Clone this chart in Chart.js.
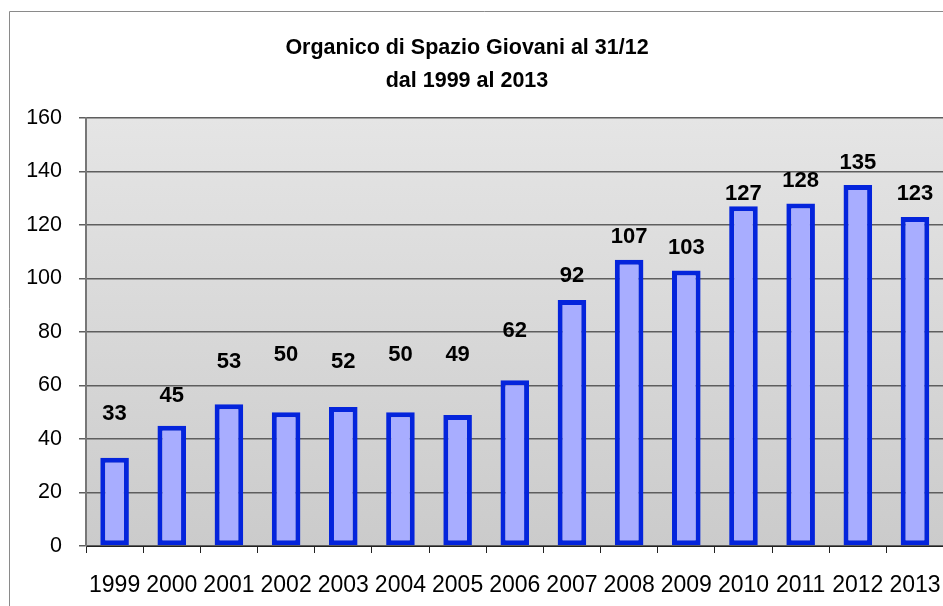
<!DOCTYPE html>
<html>
<head>
<meta charset="utf-8">
<script src="https://cdn.jsdelivr.net/npm/chart.js@4"></script>
<style>
    body { margin: 0; overflow: hidden; background: #fff; }
    #wrap { position: relative; width: 960px; height: 606px; }
</style>
</head>
<body>
<div id="wrap"><canvas id="chart"></canvas></div>
<script>
const years = ['1999', '2000', '2001', '2002', '2003', '2004', '2005', '2006', '2007', '2008', '2009', '2010', '2011', '2012', '2013'];
const organico = [33, 45, 53, 50, 52, 50, 49, 62, 92, 107, 103, 127, 128, 135, 123];
const titleLines = ['Organico di Spazio Giovani al 31/12', 'dal 1999 al 2013'];

const FONT = '"Liberation Sans", Arial, sans-serif';

// outer frame, title and plot background (grey gradient)
const framePlugin = {
    id: 'frame',
    beforeDraw(chart) {
        const ctx = chart.ctx;
        const a = chart.chartArea;
        ctx.save();
        ctx.strokeStyle = '#8a8a8a';
        ctx.lineWidth = 1;
        ctx.beginPath();
        ctx.moveTo(9.5, chart.height);
        ctx.lineTo(9.5, 11.5);
        ctx.lineTo(chart.width, 11.5);
        ctx.stroke();

        const grad = ctx.createLinearGradient(0, a.top, 0, a.bottom);
        grad.addColorStop(0, '#e5e5e5');
        grad.addColorStop(1, '#cbcbcb');
        ctx.fillStyle = grad;
        ctx.fillRect(a.left, a.top, a.right - a.left, a.bottom - a.top);

        ctx.fillStyle = '#000';
        ctx.font = 'bold 21.5px ' + FONT;
        ctx.textAlign = 'center';
        ctx.textBaseline = 'middle';
        ctx.fillText(titleLines[0], 467, 48);
        ctx.fillText(titleLines[1], 467, 81);
        ctx.restore();
    }
};

// value labels above bars, lifted by hand like in the original sheet
const valueLabels = {
    id: 'valueLabels',
    afterDatasetsDraw(chart, args, opts) {
        const ctx = chart.ctx;
        const meta = chart.getDatasetMeta(0);
        ctx.save();
        ctx.font = 'bold 22px ' + FONT;
        ctx.fillStyle = '#000';
        ctx.textAlign = 'center';
        ctx.textBaseline = 'middle';
        meta.data.forEach((bar, i) => {
            const lift = opts.lift[i] || 24;
            ctx.fillText(String(organico[i]), bar.x, bar.y - lift);
        });
        ctx.restore();
    }
};

const ctx = document.getElementById('chart').getContext('2d');
new Chart(ctx, {
    type: 'bar',
    data: {
        labels: years,
        datasets: [{
            label: 'Organico',
            data: organico,
            backgroundColor: '#a8adff',
            borderColor: '#0424dc',
            borderWidth: 5,
            borderSkipped: false,
            barPercentage: 0.5,
            categoryPercentage: 1
        }]
    },
    options: {
        responsive: true,
        maintainAspectRatio: false,
        animation: false,
        layout: {
            padding: { left: 26, right: 13, top: 118, bottom: 9 }
        },
        plugins: {
            legend: { display: false },
            tooltip: { enabled: false },
            title: { display: false },
            valueLabels: {
                lift: [44, 30, 42, 57, 45, 57, 60, 49, 24, 23, 23, 12, 23, 22, 23]
            }
        },
        scales: {
            x: {
                afterFit: s => { s.height = 51; },
                grid: {
                    drawOnChartArea: false,
                    drawTicks: true,
                    tickLength: 7,
                    color: '#222',
                    offset: true
                },
                border: { color: '#222', width: 1 },
                ticks: {
                    color: '#000',
                    padding: 19,
                    font: { family: FONT, size: 23 },
                    maxRotation: 0,
                    autoSkip: false
                }
            },
            y: {
                min: 0,
                max: 160,
                afterFit: s => { s.width = 60; },
                grid: {
                    color: '#5e5e5e',
                    lineWidth: 1.5,
                    tickLength: 7
                },
                border: { color: '#777', width: 2 },
                ticks: {
                    stepSize: 20,
                    color: '#000',
                    padding: 17,
                    font: { family: FONT, size: 21.5 }
                }
            }
        }
    },
    plugins: [framePlugin, valueLabels]
});
</script>
</body>
</html>
